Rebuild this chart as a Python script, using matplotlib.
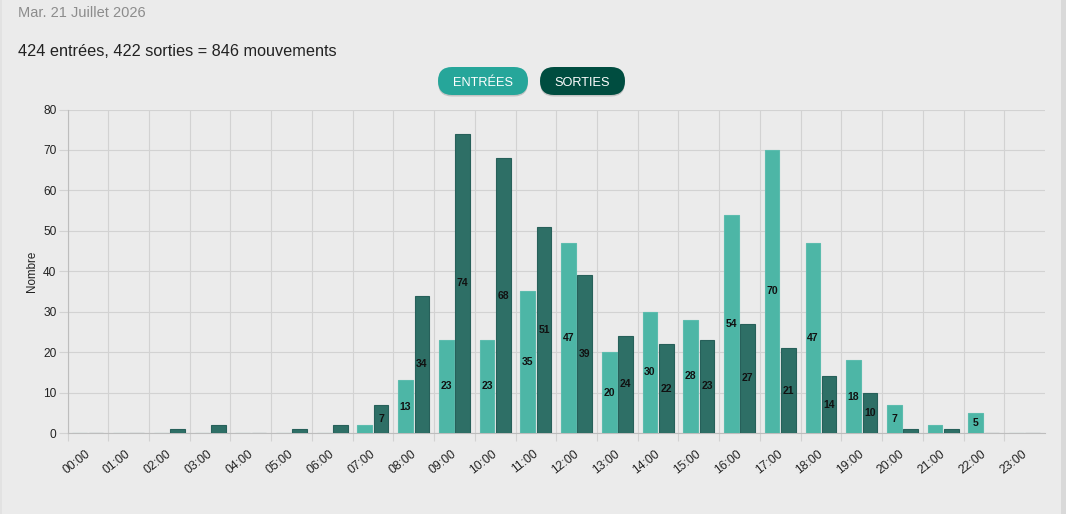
import matplotlib
matplotlib.use("Agg")
import matplotlib.pyplot as plt
from matplotlib.patches import FancyBboxPatch, Rectangle
from matplotlib.transforms import ScaledTranslation
import numpy as np

# ---- data ----
hour_labels = ["00:00", "01:00", "02:00", "03:00", "04:00", "05:00", "06:00", "07:00",
               "08:00", "09:00", "10:00", "11:00", "12:00", "13:00", "14:00", "15:00",
               "16:00", "17:00", "18:00", "19:00", "20:00", "21:00", "22:00", "23:00"]
entrees = [0, 0, 0, 0, 0, 0, 0, 2, 13, 23, 23, 35, 47, 20, 30, 28, 54, 70, 47, 18, 7, 2, 5, 0]
sorties = [0, 0, 1, 2, 0, 1, 2, 7, 34, 74, 68, 51, 39, 24, 22, 23, 27, 21, 14, 10, 1, 1, 0, 0]
date_text = "Mar. 21 Juillet 2026"
summary_text = f"{sum(entrees)} entrées, {sum(sorties)} sorties = {sum(entrees) + sum(sorties)} mouvements"
legend_labels = ["ENTRÉES", "SORTIES"]
y_label = "Nombre"

# ---- style ----
FONT = ["Liberation Sans", "DejaVu Sans"]
plt.rcParams["font.family"] = FONT
W, H, DPI = 1066, 514, 100
BG = "#ebebeb"
C_ENT = "#4db6a6"
C_ENT_EDGE = "#5cbcae"
C_SOR = "#2e6f66"
C_SOR_EDGE = "#27605a"
GRID = "#d2d2d2"
AXIS = "#bdbdbd"

fig = plt.figure(figsize=(W / DPI, H / DPI), dpi=DPI, facecolor=BG)

# card edges
fig.patches.append(Rectangle((1061 / W, 0), 1 - 1061 / W, 1, transform=fig.transFigure,
                             facecolor="#d9d9d9", edgecolor="none", zorder=0))
fig.patches.append(Rectangle((0, 0), 2 / W, 1, transform=fig.transFigure,
                             facecolor="#e2e2e2", edgecolor="none", zorder=0))

def px(x, y):
    return (x / W, 1 - y / H)

fig.text(*px(18, 13), date_text, fontsize=10.5, color="#8c8c8c", va="center", ha="left")
fig.text(*px(18, 52), summary_text, fontsize=11.7, color="#222222", va="center", ha="left")

# legend pills
pills = [(438, 528, "#26a69a"), (540, 625, "#004d40")]
for (x0, x1, col), lab in zip(pills, legend_labels):
    y0, y1 = 67, 95
    r = (y1 - y0) / 2 / DPI
    sh = FancyBboxPatch((x0 / DPI, (H - y1 - 1.5) / DPI), (x1 - x0) / DPI, (y1 - y0) / DPI,
                        boxstyle=f"round,pad=0,rounding_size={r}", transform=fig.dpi_scale_trans,
                        facecolor="#c4c4c4", edgecolor="none", zorder=1)
    fig.patches.append(sh)
    p = FancyBboxPatch((x0 / DPI, (H - y1) / DPI), (x1 - x0) / DPI, (y1 - y0) / DPI,
                       boxstyle=f"round,pad=0,rounding_size={r}", transform=fig.dpi_scale_trans,
                       facecolor=col, edgecolor="none", zorder=2)
    fig.patches.append(p)
    fig.text(*px((x0 + x1) / 2, (y0 + y1) / 2 + 1.5), lab, fontsize=9.2, color="white",
             ha="center", va="center", zorder=3)

# axes
left, right, top, bottom = 67.5, 1045, 109.5, 433
ax = fig.add_axes([left / W, 1 - bottom / H, (right - left) / W, (bottom - top) / H])
ax.set_facecolor(BG)

x = np.arange(len(hour_labels))
bw = 0.36
ax.bar(x + 0.3, entrees, width=bw, color=C_ENT, edgecolor=C_ENT_EDGE, linewidth=0.8, zorder=3)
ax.bar(x + 0.7, sorties, width=bw, color=C_SOR, edgecolor=C_SOR_EDGE, linewidth=0.8, zorder=3)

for xi, v in zip(x + 0.3, entrees):
    if v >= 5:
        ax.text(xi, v / 2, str(v), ha="center", va="center", fontsize=7.5,
                fontweight="bold", color="#111111", zorder=4)
for xi, v in zip(x + 0.7, sorties):
    if v >= 5:
        ax.text(xi, v / 2, str(v), ha="center", va="center", fontsize=7.5,
                fontweight="bold", color="#111111", zorder=4)

ax.set_xlim(0, 24)
ax.set_ylim(0, 80)
ax.set_yticks(range(0, 81, 10))
ax.set_xticks(x)
ax.set_xticklabels(hour_labels, rotation=38, ha="center", va="top", fontsize=8.8, color="#222222")
ax.tick_params(axis="x", length=6, width=0.8, color=GRID, pad=4.5)
ax.tick_params(axis="y", length=6.5, width=0.8, color=GRID, pad=1.5, labelsize=8.6, labelcolor="#222222")
off = ScaledTranslation(9 / DPI, 0, fig.dpi_scale_trans)
for lab in ax.get_xticklabels():
    lab.set_transform(lab.get_transform() + off)

ax.grid(True, color=GRID, linewidth=0.8, zorder=0)
ax.set_axisbelow(True)
for s in ["top", "right"]:
    ax.spines[s].set_visible(False)
for s in ["left", "bottom"]:
    ax.spines[s].set_color(AXIS)
    ax.spines[s].set_linewidth(0.8)

ax.set_ylabel(y_label, fontsize=8.4, color="#222222", labelpad=4)

fig.savefig("out.png", dpi=DPI, facecolor=BG)
